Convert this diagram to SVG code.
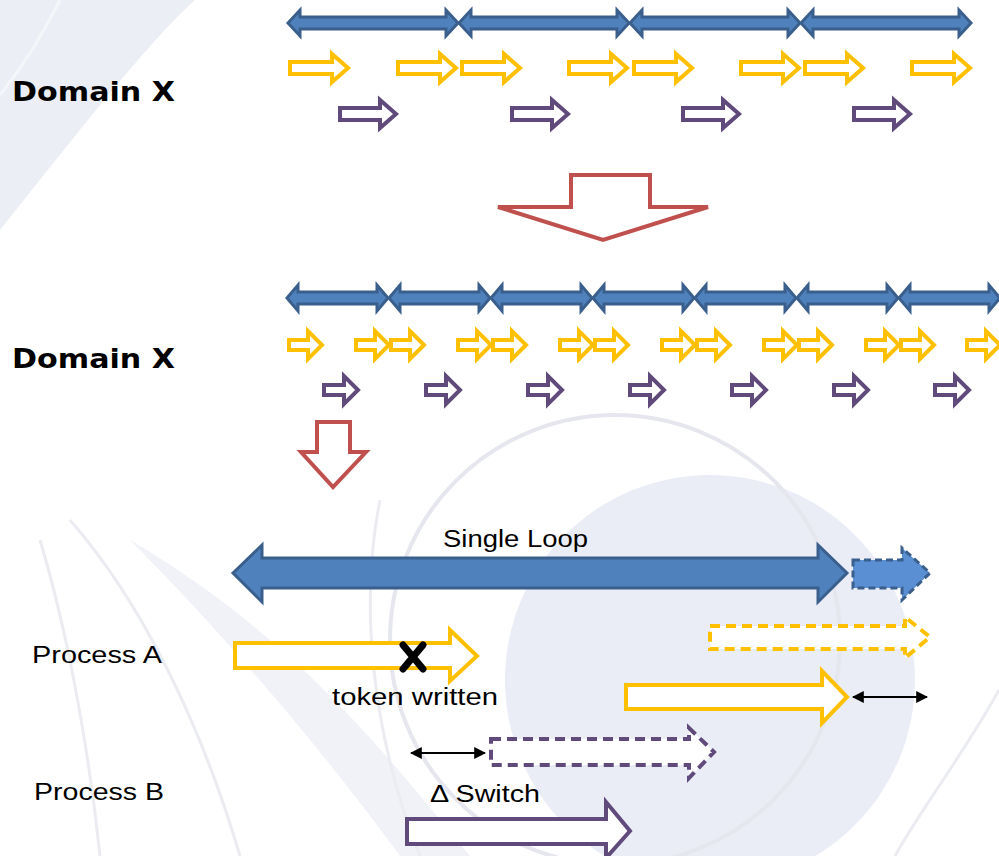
<svg xmlns="http://www.w3.org/2000/svg" xmlns:xlink="http://www.w3.org/1999/xlink" width="999" height="856" viewBox="0 0 999 856">
<style>
.blue{fill:#4f81bd;stroke:#3a5f8c;stroke-width:3;stroke-linejoin:miter}
.yel{fill:#ffffff;stroke:#ffc000;stroke-width:4}
.pur{fill:#ffffff;stroke:#604a7b;stroke-width:4}
.red{fill:#ffffff;stroke:#c0504d;stroke-width:4}
.dash{stroke-dasharray:10 6}
.lbl{font-family:"DejaVu Sans",sans-serif;font-weight:bold;font-size:27px;fill:#000}
.txt{font-family:"Liberation Sans",Arial,sans-serif;font-size:23px;fill:#000}
.dim{stroke:#000;stroke-width:2;fill:none;marker-end:url(#ah);marker-start:url(#ah)}
.faint{fill:none;stroke:#ebecf2;stroke-width:3}
</style>
<defs>
<marker id="ah" viewBox="0 0 10 10" refX="9" refY="5" markerWidth="6" markerHeight="6" orient="auto-start-reverse">
<path d="M0,0 L10,5 L0,10 z" fill="#000"/>
</marker>
<path id="b1" d="M0,0 L12,-13 L12,-6 L158,-6 L158,-13 L170,0 L158,13 L158,6 L12,6 L12,13 Z"/>
<path id="y1" d="M0,-6 L42,-6 L42,-14 L58,0 L42,14 L42,6 L0,6 Z"/>
<path id="p1" d="M0,-6 L40,-6 L40,-14 L56,0 L40,14 L40,6 L0,6 Z"/>
<path id="b2" d="M0,0 L11,-13 L11,-6 L90,-6 L90,-13 L101,0 L90,13 L90,6 L11,6 L11,13 Z"/>
<path id="y2" d="M0,-5 L19,-5 L19,-14 L33,0 L19,14 L19,5 L0,5 Z"/>
<path id="p2" d="M0,-5 L20,-5 L20,-14 L34,0 L20,14 L20,5 L0,5 Z"/>
</defs>
<rect width="999" height="856" fill="#ffffff"/>
<g id="background">
<path d="M0,0 L195,0 C150,40 80,130 0,230 Z" fill="#eceef5"/>
<path d="M60,0 C40,40 20,70 0,95" class="faint" style="stroke:#f5f6fa"/>
<circle cx="710" cy="680" r="205" fill="#eaecf6"/>
<circle cx="615" cy="640" r="225" fill="none" stroke="#e6e7ee" stroke-width="4"/>
<path d="M999,690 C960,760 920,810 895,856" class="faint"/>
<path d="M130,540 C230,640 330,760 400,856 L470,856 C390,760 300,640 130,540 Z" fill="#f1f2f8"/>
<path d="M40,540 C70,640 90,760 100,856" class="faint"/>
<path d="M70,520 C140,600 200,720 240,856" class="faint"/>
<path d="M380,500 C360,600 370,730 420,856" class="faint"/>
</g>
<g id="label-domain1"><text class="lbl" x="12" y="101" textLength="163" lengthAdjust="spacingAndGlyphs">Domain X</text></g>
<g id="label-domain2"><text class="lbl" x="12" y="368" textLength="163" lengthAdjust="spacingAndGlyphs">Domain X</text></g>
<g id="row1-blue" class="blue">
<use xlink:href="#b1" x="288" y="23"/><use xlink:href="#b1" x="459" y="23"/><use xlink:href="#b1" x="630" y="23"/><use xlink:href="#b1" x="801" y="23"/>
</g>
<g id="row1-yellow" class="yel">
<use xlink:href="#y1" x="290" y="68"/><use xlink:href="#y1" x="398" y="68"/><use xlink:href="#y1" x="462" y="68"/><use xlink:href="#y1" x="569" y="68"/>
<use xlink:href="#y1" x="634" y="68"/><use xlink:href="#y1" x="741" y="68"/><use xlink:href="#y1" x="805" y="68"/><use xlink:href="#y1" x="912" y="68"/>
</g>
<g id="row1-purple" class="pur">
<use xlink:href="#p1" x="340" y="114"/><use xlink:href="#p1" x="512" y="114"/><use xlink:href="#p1" x="683" y="114"/><use xlink:href="#p1" x="854" y="114"/>
</g>
<g id="down-arrow-big"><polygon class="red" points="571,175 650,175 650,207 708,207 603,240 498,207 571,207"/></g>
<g id="row2-blue" class="blue">
<use xlink:href="#b2" x="287" y="298"/><use xlink:href="#b2" x="389" y="298"/><use xlink:href="#b2" x="491" y="298"/><use xlink:href="#b2" x="593" y="298"/>
<use xlink:href="#b2" x="695" y="298"/><use xlink:href="#b2" x="797" y="298"/><use xlink:href="#b2" x="899" y="298"/>
</g>
<g id="row2-yellow" class="yel">
<use xlink:href="#y2" x="289" y="345"/><use xlink:href="#y2" x="356" y="345"/><use xlink:href="#y2" x="391" y="345"/><use xlink:href="#y2" x="458" y="345"/>
<use xlink:href="#y2" x="493" y="345"/><use xlink:href="#y2" x="560" y="345"/><use xlink:href="#y2" x="595" y="345"/><use xlink:href="#y2" x="662" y="345"/>
<use xlink:href="#y2" x="697" y="345"/><use xlink:href="#y2" x="764" y="345"/><use xlink:href="#y2" x="799" y="345"/><use xlink:href="#y2" x="866" y="345"/>
<use xlink:href="#y2" x="901" y="345"/><use xlink:href="#y2" x="967" y="345"/>
</g>
<g id="row2-purple" class="pur">
<use xlink:href="#p2" x="324" y="390"/><use xlink:href="#p2" x="426" y="390"/><use xlink:href="#p2" x="528" y="390"/><use xlink:href="#p2" x="630" y="390"/>
<use xlink:href="#p2" x="732" y="390"/><use xlink:href="#p2" x="834" y="390"/><use xlink:href="#p2" x="935" y="390"/>
</g>
<g id="down-arrow-small"><polygon class="red" points="317,422 350,422 350,452 366,452 333,487 301,452 317,452"/></g>
<g id="single-loop">
<polygon class="blue" points="233,573 262,545 262,558 818,558 818,545 847,573 818,602 818,588 262,588 262,602"/>
<text class="txt" x="443" y="547" textLength="145" lengthAdjust="spacingAndGlyphs">Single Loop</text>
</g>
<g id="next-loop"><polygon class="blue dash" style="fill:#5b8fd3;stroke-dasharray:7 4" points="853,560 902,560 902,548 930,573 902,600 902,588 853,588"/></g>
<g id="label-process-a"><text class="txt" x="32" y="663" textLength="130" lengthAdjust="spacingAndGlyphs">Process A</text></g>
<g id="label-process-b"><text class="txt" x="34" y="800" textLength="130" lengthAdjust="spacingAndGlyphs">Process B</text></g>
<g id="process-a-run">
<polygon class="yel" points="235,643 450,643 450,630 477,656 450,681 450,668 235,668"/>
<path d="M403,645 L423,669 M423,645 L403,669" stroke="#000" stroke-width="7" stroke-linecap="round"/>
<text class="txt" x="332" y="705" textLength="166" lengthAdjust="spacingAndGlyphs">token written</text>
</g>
<g id="process-a-next"><polygon class="yel dash" points="710,626 905,626 905,617 930,637 905,658 905,649 710,649"/></g>
<g id="process-a-switched"><polygon class="yel" points="626,685 822,685 822,671 847,697 822,723 822,709 626,709"/></g>
<g id="process-b-next"><polygon class="pur dash" points="491,739 689,739 689,728 714,752 689,778 689,765 491,765"/></g>
<g id="process-b-run">
<polygon class="pur" points="407,819 606,819 606,802 630,831 606,858 606,844 407,844"/>
<text class="txt" x="430" y="802" textLength="110" lengthAdjust="spacingAndGlyphs">Δ Switch</text>
</g>
<g id="connectors">
<line class="dim" x1="853" y1="697" x2="927" y2="697"/>
<line class="dim" x1="411" y1="753" x2="485" y2="753"/>
</g>
</svg>
